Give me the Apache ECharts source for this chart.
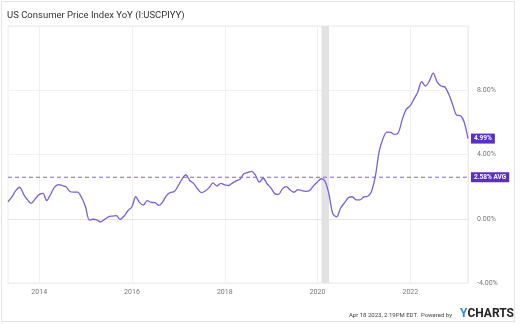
<!DOCTYPE html>
<html>
<head>
<meta charset="utf-8">
<script src="https://cdn.jsdelivr.net/npm/echarts@6/dist/echarts.min.js"></script>
<style>html,body{margin:0;padding:0;background:#fff}#c{width:521px;height:325px}</style>
</head>
<body>
<div id="c"></div>
<script>
// Monthly CPI YoY (%), Apr 2013 .. Mar 2023 (month-end dates)
const startYear = 2013, startMonth = 4;
const cpiYoY = [
  1.06, 1.36, 1.75, 1.96, 1.52, 1.18, 0.96, 1.24, 1.50,
  1.58, 1.13, 1.51, 1.95, 2.13, 2.07, 1.99, 1.70, 1.66, 1.66, 1.32, 0.76,
  -0.09, -0.03, -0.07, -0.20, -0.04, 0.12, 0.17, 0.20, -0.04, 0.17, 0.50, 0.73,
  1.37, 1.02, 0.85, 1.13, 1.02, 1.00, 0.83, 1.06, 1.46, 1.64, 1.69, 2.07,
  2.50, 2.74, 2.38, 2.20, 1.87, 1.63, 1.73, 1.94, 2.23, 2.04, 2.20, 2.11,
  2.07, 2.21, 2.36, 2.46, 2.80, 2.87, 2.95, 2.70, 2.28, 2.52, 2.18, 1.91,
  1.55, 1.52, 1.86, 2.00, 1.79, 1.65, 1.81, 1.75, 1.71, 1.76, 2.05, 2.29,
  2.49, 2.33, 1.54, 0.33, 0.12, 0.65, 0.99, 1.31, 1.37, 1.18, 1.17, 1.36,
  1.40, 1.68, 2.62, 4.16, 4.99, 5.39, 5.37, 5.25, 5.39, 6.22, 6.81, 7.04,
  7.48, 7.87, 8.54, 8.26, 8.58, 9.06, 8.52, 8.26, 8.20, 7.75, 7.11, 6.45,
  6.41, 6.04, 4.99
];
const averageValue = 2.58;
const recession = ['2020-02-01', '2020-04-01'];
const xTickYears = [2014, 2016, 2018, 2020, 2022];
const yTicks = [-4, 0, 4, 8];

function monthEndMs(i) {
  const m0 = startMonth - 1 + i;
  const y = startYear + Math.floor(m0 / 12);
  const m = m0 % 12 + 1;
  return Date.UTC(y, m, 0);
}
const toMs = s => Date.parse(s + 'T00:00:00Z');
const seriesData = cpiYoY.map((v, i) => [monthEndMs(i), v]);
const xTicksMs = xTickYears.map(y => Date.UTC(y, 0, 1));
const xMin = seriesData[0][0], xMax = seriesData[seriesData.length - 1][0];
const avgData = [[xMin, averageValue], [xMax, averageValue]];

const purple = '#7b5fd3';
const tagPurple = '#5a2fc4';
const FONT = 'Roboto, "Noto Sans", sans-serif';
const tagLabel = {
  color: '#fff', fontSize: 6.5, fontWeight: 'bold', fontFamily: FONT,
  backgroundColor: tagPurple, padding: [2, 3, 1, 3], distance: 3
};

const chart = echarts.init(document.getElementById('c'), null, {renderer: 'canvas'});
chart.setOption({
  animation: false,
  textStyle: {fontFamily: FONT},
  grid: {left: 8, right: 53, top: 26, bottom: 42, show: true, borderColor: '#ececec', borderWidth: 1},
  xAxis: {
    type: 'value',
    min: xMin,
    max: xMax,
    axisLine: {show: true, lineStyle: {color: '#e6e6e6'}},
    axisTick: {show: false, customValues: xTicksMs},
    splitLine: {show: true, lineStyle: {color: '#f0f0f0'}},
    axisLabel: {
      customValues: xTicksMs,
      color: '#777', fontSize: 7, fontFamily: FONT, margin: 6,
      formatter: v => String(new Date(v).getUTCFullYear())
    }
  },
  yAxis: {
    type: 'value',
    position: 'right',
    min: -4, max: 12, interval: 4,
    axisLine: {show: true, lineStyle: {color: '#ececec'}},
    axisTick: {show: false},
    splitLine: {lineStyle: {color: '#f0f0f0'}},
    axisLabel: {
      color: '#777', fontSize: 7, fontFamily: FONT, margin: 9,
      padding: [0, 0, 8, 0],
      formatter: v => yTicks.indexOf(v) >= 0 ? v.toFixed(2) + '%' : ''
    }
  },
  series: [{
    type: 'line',
    data: seriesData,
    showSymbol: false,
    smooth: 0.3,
    z: 3,
    lineStyle: {color: purple, width: 1.3},
    itemStyle: {color: purple},
    endLabel: Object.assign({show: true, formatter: p => p.value[1].toFixed(2) + '%'}, tagLabel),
    markArea: {
      silent: true,
      itemStyle: {color: '#e2e2e2'},
      data: [[{xAxis: toMs(recession[0])}, {xAxis: toMs(recession[1])}]]
    }
  }, {
    type: 'line',
    data: avgData,
    showSymbol: false,
    silent: true,
    z: 2,
    lineStyle: {color: '#8063d8', type: [4, 3], width: 1.1},
    itemStyle: {color: '#8063d8'},
    endLabel: Object.assign({show: true, formatter: averageValue.toFixed(2) + '% AVG'}, tagLabel)
  }],
  graphic: [
    {type: 'rect', shape: {x: 1.5, y: 1.5, width: 513, height: 320}, style: {fill: 'none', stroke: '#e4e4e4', lineWidth: 1}, silent: true, z: -1},
    {type: 'text', left: 7, top: 11, style: {text: 'US Consumer Price Index YoY (I:USCPIYY)', fill: '#333', font: '9.5px ' + FONT}},
    {type: 'text', right: 69, top: 312, style: {text: 'Apr 18 2023, 2:19PM EDT.  Powered by', fill: '#444', font: '6px ' + FONT}},
    {type: 'text', right: 7, top: 308, style: {
      text: '{y|Y}{c|CHARTS}',
      rich: {
        y: {fill: '#2a8ee0', font: 'bold 12px ' + FONT},
        c: {fill: '#222', font: 'bold 12px ' + FONT}
      }
    }}
  ]
});
</script>
</body>
</html>
